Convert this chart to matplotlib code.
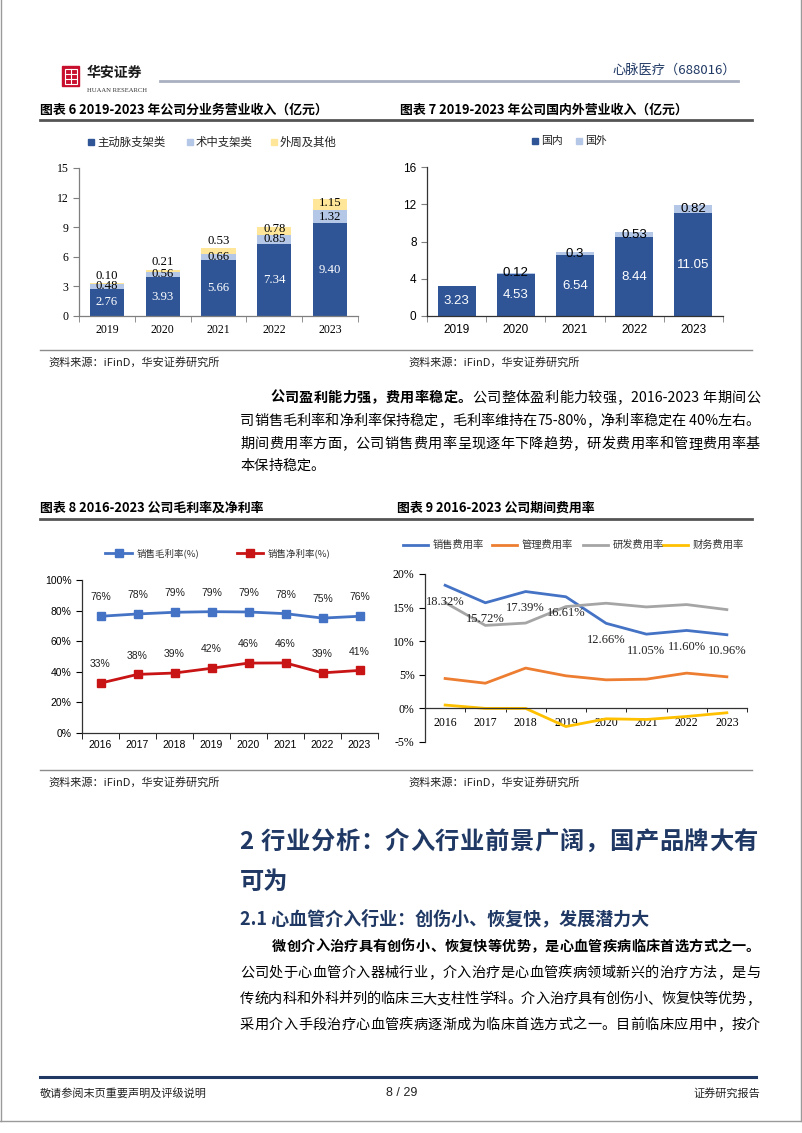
import matplotlib
matplotlib.use('Agg')
import matplotlib.pyplot as plt
from matplotlib.lines import Line2D
from matplotlib.patches import Rectangle
from matplotlib.ticker import FuncFormatter
import numpy as np

plt.rcParams['font.family'] = ['Noto Sans CJK SC', 'DejaVu Sans']

# ---------------- data ----------------
years_a = ['2019', '2020', '2021', '2022', '2023']
seg_names = ['主动脉支架类', '术中支架类', '外周及其他']
seg_main = [2.76, 3.93, 5.66, 7.34, 9.40]
seg_intra = [0.48, 0.56, 0.66, 0.85, 1.32]
seg_periph = [0.10, 0.21, 0.53, 0.78, 1.15]

region_names = ['国内', '国外']
dom = [3.23, 4.53, 6.54, 8.44, 11.05]
ovs = [0.0, 0.12, 0.30, 0.53, 0.82]
ovs_labels = ['', '0.12', '0.3', '0.53', '0.82']

years_b = ['2016', '2017', '2018', '2019', '2020', '2021', '2022', '2023']
margin_names = ['销售毛利率(%)', '销售净利率(%)']
gross = [76.3, 77.8, 78.9, 79.3, 79.1, 78.0, 75.1, 76.3]
net = [32.6, 38.3, 39.2, 42.3, 45.7, 45.8, 39.3, 40.9]

exp_names = ['销售费用率', '管理费用率', '研发费用率', '财务费用率']
sell = [18.32, 15.72, 17.39, 16.61, 12.66, 11.05, 11.60, 10.96]
admin = [4.45, 3.75, 6.0, 4.85, 4.25, 4.35, 5.25, 4.7]
rnd = [15.75, 12.35, 12.7, 15.15, 15.65, 15.1, 15.45, 14.7]
fin = [0.5, 0.0, 0.0, -2.7, -1.55, -1.65, -1.2, -0.65]

# ---------------- page helpers ----------------
W, H = 802, 1133
fig = plt.figure(figsize=(W / 100, H / 100), dpi=100)
renderer = fig.canvas.get_renderer()

NAVY = '#1F3864'
SERIF = 'Liberation Serif'
SANS = 'Liberation Sans'


def fx(x):
    return x / W


def fy(y):
    return 1 - y / H


def txt(x, y, s, size, **kw):
    kw.setdefault('va', 'center')
    return fig.text(fx(x), fy(y), s, fontsize=size, **kw)


def hline(x0, x1, y, color, lw):
    fig.add_artist(Line2D([fx(x0), fx(x1)], [fy(y), fy(y)], color=color, lw=lw,
                          transform=fig.transFigure))


def vline(x, y0, y1, color, lw):
    fig.add_artist(Line2D([fx(x), fx(x)], [fy(y0), fy(y1)], color=color, lw=lw,
                          transform=fig.transFigure))


def add_axes(l, r, t, b):
    return fig.add_axes([fx(l), fy(b), fx(r) - fx(l), fy(t) - fy(b)])


def tokens(s):
    out, buf = [], ''
    for ch in s:
        if ord(ch) < 128:
            buf += ch
        else:
            if buf:
                out.append(buf)
                buf = ''
            out.append(ch)
    if buf:
        out.append(buf)
    return out


def para_line(x0, x1, y, segments, size, color='black', justify=True):
    items = []
    for s, w in segments:
        for tk in tokens(s):
            t = fig.text(fx(x0), fy(y), tk, fontsize=size, fontweight=w, va='center', color=color)
            items.append([t, t.get_window_extent(renderer).width])
    total = sum(w for _, w in items)
    gap = (x1 - x0 - total) / (len(items) - 1) if (justify and len(items) > 1) else 0
    x = x0
    for t, w in items:
        t.set_x(fx(x))
        x += w + gap


def legend_square(x, y, color, label, size, size_px=6):
    fig.add_artist(Rectangle((fx(x), fy(y + size_px / 2)), size_px / W, size_px / H,
                             color=color, transform=fig.transFigure))
    txt(x + size_px + 3, y, label, size, color='#222222')


def legend_line(x0, x1, y, color, label, size, marker=None):
    fig.add_artist(Line2D([fx(x0), fx(x1)], [fy(y), fy(y)], color=color, lw=2,
                          transform=fig.transFigure))
    if marker:
        fig.add_artist(Line2D([fx((x0 + x1) / 2)], [fy(y)], color=color, marker=marker,
                              ms=5.5, transform=fig.transFigure))
    txt(x1 + 5, y, label, size, color='#333333')


# ---------------- frame / header ----------------
vline(1, 0, 1121, '#9a9a9a', 1)
vline(800.5, 0, 1121, '#9a9a9a', 1)
hline(0, 802, 1121, '#9a9a9a', 1)

fig.add_artist(Rectangle((fx(62), fy(86)), 17 / W, 20 / H, color='#C8102E',
                         transform=fig.transFigure))
fig.add_artist(Rectangle((fx(64.5), fy(83.5)), 12 / W, 15 / H, fill=False, ec='white', lw=0.8,
                         transform=fig.transFigure))
vline(70.5, 69, 84, 'white', 0.8)
hline(65, 76, 74, 'white', 0.8)
hline(65, 76, 78.5, 'white', 0.8)
txt(87, 73, '华安证券', 10, fontweight='bold', color='#1a1a1a')
txt(87, 90, 'HUAAN RESEARCH', 4.8, family=SERIF, color='#333333')
hline(160, 738, 81, '#A9B0C0', 2)
txt(736, 70, '心脉医疗（688016）', 9.5, ha='right', color=NAVY)

# chart titles row 1
txt(40, 110, '图表 6 2019-2023 年公司分业务营业收入（亿元）', 9.3, fontweight='bold')
txt(400, 110, '图表 7 2019-2023 年公司国内外营业收入（亿元）', 9.3, fontweight='bold')
hline(40, 752, 120, '#555555', 2)

C_MAIN = '#2F5597'
C_LIGHT = '#B4C7E7'
C_YEL = '#FFE699'


def style_bar_axes(ax, family, n):
    for s in ['top', 'right']:
        ax.spines[s].set_visible(False)
    for s in ['left', 'bottom']:
        ax.spines[s].set_color('#7f7f7f')
        ax.spines[s].set_linewidth(0.9)
    ax.set_xlim(-0.5, n - 0.5)
    ax.set_xticks(np.arange(-0.5, n, 1.0), minor=True)
    ax.tick_params(axis='x', which='major', length=0, pad=6, labelsize=8.5,
                   labelfontfamily=family)
    ax.tick_params(axis='x', which='minor', length=4, color='#7f7f7f', direction='out')
    ax.tick_params(axis='y', length=4, color='#7f7f7f', labelsize=8.5, labelfontfamily=family)


# ---------------- chart 6 ----------------
ax6 = add_axes(79, 358, 168, 316)
xa = np.arange(len(years_a))
bw = 0.61
b1 = np.array(seg_main)
b2 = b1 + np.array(seg_intra)
ax6.bar(xa, seg_main, bw, color=C_MAIN)
ax6.bar(xa, seg_intra, bw, bottom=b1, color=C_LIGHT)
ax6.bar(xa, seg_periph, bw, bottom=b2, color=C_YEL)
ax6.set_ylim(0, 15)
ax6.set_yticks(range(0, 16, 3))
ax6.set_xticks(xa, years_a)
style_bar_axes(ax6, SERIF, len(years_a))
LBL = 9.2
for i in range(len(years_a)):
    ax6.text(i, seg_main[i] / 2, f'{seg_main[i]:.2f}', ha='center', va='center',
             color='white', fontsize=LBL, family=SERIF)
    ax6.text(i, b1[i] + seg_intra[i] / 2, f'{seg_intra[i]:.2f}', ha='center', va='center',
             color='black', fontsize=LBL, family=SERIF)
    top = b2[i] + seg_periph[i]
    yl = b2[i] + seg_periph[i] / 2 + 0.2 if seg_periph[i] >= 0.6 else top + 0.75
    ax6.text(i, yl, f'{seg_periph[i]:.2f}', ha='center', va='center',
             color='black', fontsize=LBL, family=SERIF)

legend_square(88, 142, C_MAIN, seg_names[0], 8.2)
legend_square(187, 142, C_LIGHT, seg_names[1], 8.2)
legend_square(271, 142, C_YEL, seg_names[2], 8.2)

# ---------------- chart 7 ----------------
ax7 = add_axes(427, 723, 167, 316)
bw7 = 0.64
ax7.bar(xa, dom, bw7, color=C_MAIN)
ax7.bar(xa, ovs, bw7, bottom=dom, color=C_LIGHT)
ax7.set_ylim(0, 16)
ax7.set_yticks(range(0, 17, 4))
ax7.set_xticks(xa, years_a)
style_bar_axes(ax7, SANS, len(years_a))
ax7.spines['left'].set_color('#333333')
ax7.spines['bottom'].set_color('#333333')
for i in range(len(years_a)):
    ax7.text(i, dom[i] / 2, f'{dom[i]:.2f}', ha='center', va='center', color='white',
             fontsize=9.5, family=SANS)
    if ovs_labels[i]:
        ax7.text(i, dom[i] + ovs[i] / 2, ovs_labels[i], ha='center', va='center',
                 color='black', fontsize=9.5, family=SANS)

legend_square(532, 141, C_MAIN, region_names[0], 7.8)
legend_square(576, 141, C_LIGHT, region_names[1], 7.8)

# sources row 1
hline(40, 752, 350, '#8c8c8c', 1)
txt(48, 362, '资料来源：iFinD，华安证券研究所', 8, color='#222222')
txt(408, 362, '资料来源：iFinD，华安证券研究所', 8, color='#222222')

# ---------------- paragraph 1 ----------------
PS = 10.2
para_line(270, 760, 398, [('公司盈利能力强，费用率稳定。', 'bold'),
                          ('公司整体盈利能力较强，2016-2023 年期间公', 'normal')], PS)
para_line(240, 760, 421, [('司销售毛利率和净利率保持稳定，毛利率维持在75-80%，净利率稳定在 40%左右。', 'normal')], PS)
para_line(240, 760, 444, [('期间费用率方面，公司销售费用率呈现逐年下降趋势，研发费用率和管理费用率基', 'normal')], PS)
para_line(240, 760, 466, [('本保持稳定。', 'normal')], PS, justify=False)

# chart titles row 2
txt(40, 508, '图表 8 2016-2023 公司毛利率及净利率', 9.3, fontweight='bold')
txt(397, 508, '图表 9 2016-2023 公司期间费用率', 9.3, fontweight='bold')
hline(40, 752, 519, '#555555', 2)

# ---------------- chart 8 ----------------
C_BLUE = '#4472C4'
C_RED = '#C81414'
ax8 = add_axes(82, 378, 580, 733)
xb = np.arange(len(years_b))
ax8.plot(xb, gross, color=C_BLUE, lw=2, marker='s', ms=5.5)
ax8.plot(xb, net, color=C_RED, lw=2, marker='s', ms=5.5)
ax8.set_ylim(0, 100)
ax8.set_yticks(range(0, 101, 20))
ax8.yaxis.set_major_formatter(FuncFormatter(lambda v, p: f'{v:.0f}%'))
ax8.set_xticks(xb, years_b)
ax8.set_xlim(-0.5, len(years_b) - 0.5)
ax8.set_xticks(np.arange(-0.5, len(years_b), 1.0), minor=True)
for s in ['top', 'right']:
    ax8.spines[s].set_visible(False)
for s in ['left', 'bottom']:
    ax8.spines[s].set_color('#333333')
    ax8.spines[s].set_linewidth(0.9)
ax8.tick_params(axis='x', which='major', length=0, pad=5, labelsize=7.5, labelfontfamily=SANS)
ax8.tick_params(axis='x', which='minor', length=4, direction='out')
ax8.tick_params(axis='y', length=4, labelsize=7.5, labelfontfamily=SANS)
for i in range(len(years_b)):
    ax8.annotate(f'{gross[i]:.0f}%', (i, gross[i]), xytext=(0, 10), textcoords='offset points',
                 ha='center', va='bottom', fontsize=7.5, family=SANS, color='#222222')
    ax8.annotate(f'{net[i]:.0f}%', (i, net[i]), xytext=(0, 10), textcoords='offset points',
                 ha='center', va='bottom', fontsize=7.5, family=SANS, color='#222222')

legend_line(105, 132, 553, C_BLUE, margin_names[0], 6.8, marker='s')
legend_line(237, 263, 553, C_RED, margin_names[1], 6.8, marker='s')

# ---------------- chart 9 ----------------
C_ORG = '#ED7D31'
C_GRY = '#A5A5A5'
C_GLD = '#FFC000'
ax9 = add_axes(425, 747, 574, 742)
ax9.plot(xb, sell, color=C_BLUE, lw=2)
ax9.plot(xb, admin, color=C_ORG, lw=2)
ax9.plot(xb, rnd, color=C_GRY, lw=2)
ax9.plot(xb, fin, color=C_GLD, lw=2)
ax9.set_ylim(-5, 20)
ax9.set_yticks(range(-5, 21, 5))
ax9.yaxis.set_major_formatter(FuncFormatter(lambda v, p: f'{v:.0f}%'))
ax9.set_xlim(-0.5, len(years_b) - 0.5)
ax9.set_xticks(xb, years_b)
ax9.set_xticks(np.arange(-0.5, len(years_b), 1.0), minor=True)
ax9.spines['bottom'].set_position(('data', 0))
for s in ['top', 'right']:
    ax9.spines[s].set_visible(False)
for s in ['left', 'bottom']:
    ax9.spines[s].set_color('#333333')
    ax9.spines[s].set_linewidth(0.9)
ax9.tick_params(axis='x', which='major', length=0, pad=6, labelsize=8.5, labelfontfamily=SERIF)
ax9.tick_params(axis='x', which='minor', length=3, direction='out')
ax9.tick_params(axis='y', length=4, labelsize=8.5, labelfontfamily=SERIF)
for i in range(len(years_b)):
    ax9.annotate(f'{sell[i]:.2f}%', (i, sell[i]), xytext=(0, -12), textcoords='offset points',
                 ha='center', va='center', fontsize=9, family=SERIF, color='#222222')

legend_line(403, 428, 545, C_BLUE, exp_names[0], 7.4)
legend_line(492, 517, 545, C_ORG, exp_names[1], 7.4)
legend_line(583, 608, 545, C_GRY, exp_names[2], 7.4)
legend_line(663, 688, 545, C_GLD, exp_names[3], 7.4)

# sources row 2
hline(40, 752, 770, '#8c8c8c', 1)
txt(48, 782, '资料来源：iFinD，华安证券研究所', 8, color='#222222')
txt(408, 782, '资料来源：iFinD，华安证券研究所', 8, color='#222222')

# ---------------- section 2 ----------------
para_line(240, 758, 842, [('2 行业分析：介入行业前景广阔，国产品牌大有', 'bold')], 17.5, color=NAVY)
txt(240, 882, '可为', 17.5, fontweight='bold', color=NAVY)
txt(240, 919, '2.1 心血管介入行业：创伤小、恢复快，发展潜力大', 13, fontweight='bold', color=NAVY)

para_line(272, 760, 947, [('微创介入治疗具有创伤小、恢复快等优势，是心血管疾病临床首选方式之一。', 'bold')], PS)
para_line(240, 760, 973, [('公司处于心血管介入器械行业，介入治疗是心血管疾病领域新兴的治疗方法，是与', 'normal')], PS)
para_line(240, 760, 999, [('传统内科和外科并列的临床三大支柱性学科。介入治疗具有创伤小、恢复快等优势，', 'normal')], PS)
para_line(240, 760, 1025, [('采用介入手段治疗心血管疾病逐渐成为临床首选方式之一。目前临床应用中，按介', 'normal')], PS)

# ---------------- footer ----------------
hline(40, 756, 1077, NAVY, 2.2)
txt(40, 1093, '敬请参阅末页重要声明及评级说明', 8, color='#222222')
txt(402, 1093, '8 / 29', 9, ha='center', family=SANS, color='#222222')
txt(760, 1093, '证券研究报告', 8, ha='right', color='#222222')

fig.savefig('out.png', dpi=100)
